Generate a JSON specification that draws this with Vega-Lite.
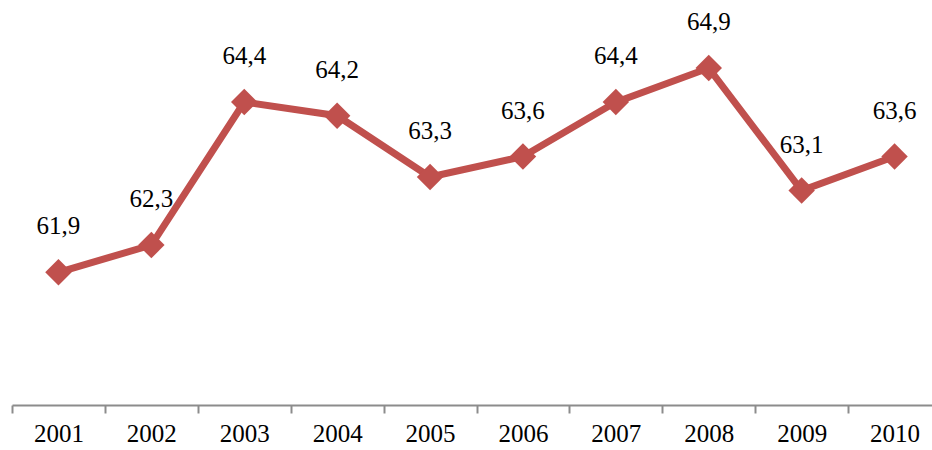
{
  "$schema": "https://vega.github.io/schema/vega-lite/v6.json",
  "autosize": {"type": "none"},
  "width": 920,
  "height": 405,
  "padding": {"left": 12, "top": 0, "right": 0, "bottom": 45},
  "background": "white",
  "config": {"view": {"stroke": null}},
  "data": {"values": [
    {"year": "2001", "value": 61.9, "label": "61,9"},
    {"year": "2002", "value": 62.3, "label": "62,3"},
    {"year": "2003", "value": 64.4, "label": "64,4"},
    {"year": "2004", "value": 64.2, "label": "64,2"},
    {"year": "2005", "value": 63.3, "label": "63,3"},
    {"year": "2006", "value": 63.6, "label": "63,6"},
    {"year": "2007", "value": 64.4, "label": "64,4"},
    {"year": "2008", "value": 64.9, "label": "64,9"},
    {"year": "2009", "value": 63.1, "label": "63,1"},
    {"year": "2010", "value": 63.6, "label": "63,6"}
  ]},
  "encoding": {
    "x": {
      "field": "year", "type": "ordinal",
      "scale": {"type": "band", "range": [0, 929], "paddingInner": 0, "paddingOuter": 0},
      "axis": {
        "title": null, "labelAngle": 0, "tickBand": "extent",
        "domainColor": "#8c8c8c", "domainWidth": 2,
        "tickColor": "#8c8c8c", "tickWidth": 2, "tickSize": 8,
        "labelFont": "Liberation Serif", "labelFontSize": 25, "labelColor": "#000000",
        "labelPadding": 8, "labelBaseline": "top", "labelFlush": false, "labelOverlap": false
      }
    },
    "y": {
      "field": "value", "type": "quantitative",
      "scale": {"domain": [59.95, 65.9], "nice": false, "zero": false},
      "axis": null
    }
  },
  "layer": [
    {"mark": {"type": "line", "color": "#C0504D", "strokeWidth": 7, "strokeJoin": "miter"}},
    {"mark": {"type": "point", "shape": "diamond", "filled": true, "color": "#C0504D", "size": 700, "opacity": 1}},
    {"mark": {"type": "text", "font": "Liberation Serif", "fontSize": 25, "color": "#000000", "baseline": "alphabetic", "dy": -38},
     "encoding": {"text": {"field": "label"}}}
  ]
}
